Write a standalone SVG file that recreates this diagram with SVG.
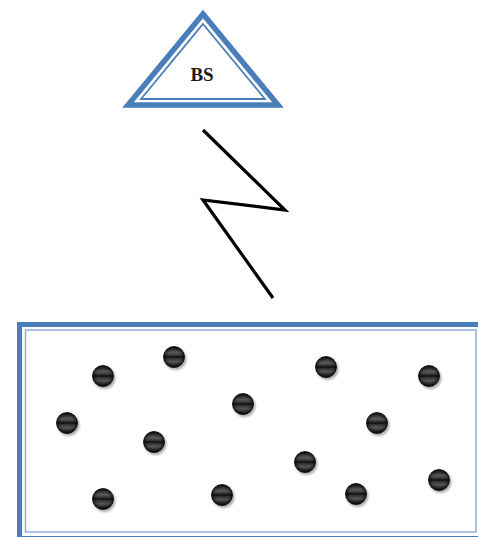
<svg xmlns="http://www.w3.org/2000/svg" xmlns:xlink="http://www.w3.org/1999/xlink" width="478" height="537" viewBox="0 0 478 537">
<style>
.blue{fill:none;stroke:#4a7ebb;stroke-linejoin:miter}
.lbl{font-family:"Liberation Serif",serif;font-weight:bold;font-size:19px;fill:#1a1a1a}
.bolt{fill:none;stroke:#000;stroke-width:3.2;stroke-linejoin:miter}
</style>
<defs>
<radialGradient id="rg" cx="0.5" cy="0.5" r="0.5">
<stop offset="0.6" stop-color="#000" stop-opacity="0"/>
<stop offset="1" stop-color="#000" stop-opacity="0.6"/>
</radialGradient>
<linearGradient id="dg" x1="0" y1="0" x2="0" y2="1">
<stop offset="0" stop-color="#1a1a1a"/>
<stop offset="0.3" stop-color="#5a5a5a"/>
<stop offset="0.46" stop-color="#2a2a2a"/>
<stop offset="0.5" stop-color="#000"/>
<stop offset="0.54" stop-color="#2a2a2a"/>
<stop offset="0.72" stop-color="#555"/>
<stop offset="1" stop-color="#111"/>
</linearGradient>
<filter id="sh" x="-50%" y="-50%" width="200%" height="200%"><feGaussianBlur stdDeviation="1.2"/></filter>
<g id="dot">
<circle cx="1.5" cy="2" r="11" fill="#777" opacity="0.6" filter="url(#sh)"/>
<circle cx="0" cy="0" r="10.5" fill="url(#dg)" stroke="#111" stroke-width="0.8"/>
<circle cx="0" cy="0" r="10.5" fill="url(#rg)"/>
</g>
</defs>
<rect width="478" height="537" fill="#fff"/>
<g id="bs">
<path class="blue" stroke-width="5.5" d="M203 14 L278 105 L128 105 Z"/>
<path class="blue" stroke-width="1.8" d="M203 24 L265 99 L141 99 Z"/>
<text class="lbl" x="202" y="81" text-anchor="middle">BS</text>
</g>
<g id="connectors">
<polyline class="bolt" points="203,130 285,210 203,200 273,298"/>
</g>
<g id="field">
<rect class="blue" x="19.5" y="324.5" width="462" height="214" stroke-width="5"/>
<rect x="25.5" y="330" width="450.5" height="202" fill="none" stroke="#8eaedb" stroke-width="1.5"/>
</g>
<g id="nodes">
<g id="n1"><use xlink:href="#dot" x="103" y="376"/></g>
<g id="n2"><use xlink:href="#dot" x="174" y="357"/></g>
<g id="n3"><use xlink:href="#dot" x="326" y="367"/></g>
<g id="n4"><use xlink:href="#dot" x="429" y="376"/></g>
<g id="n5"><use xlink:href="#dot" x="243" y="404"/></g>
<g id="n6"><use xlink:href="#dot" x="67" y="423"/></g>
<g id="n7"><use xlink:href="#dot" x="377" y="423"/></g>
<g id="n8"><use xlink:href="#dot" x="154" y="442"/></g>
<g id="n9"><use xlink:href="#dot" x="305" y="462"/></g>
<g id="n10"><use xlink:href="#dot" x="439" y="480"/></g>
<g id="n11"><use xlink:href="#dot" x="103" y="499"/></g>
<g id="n12"><use xlink:href="#dot" x="222" y="495"/></g>
<g id="n13"><use xlink:href="#dot" x="356" y="494"/></g>
</g>
</svg>
